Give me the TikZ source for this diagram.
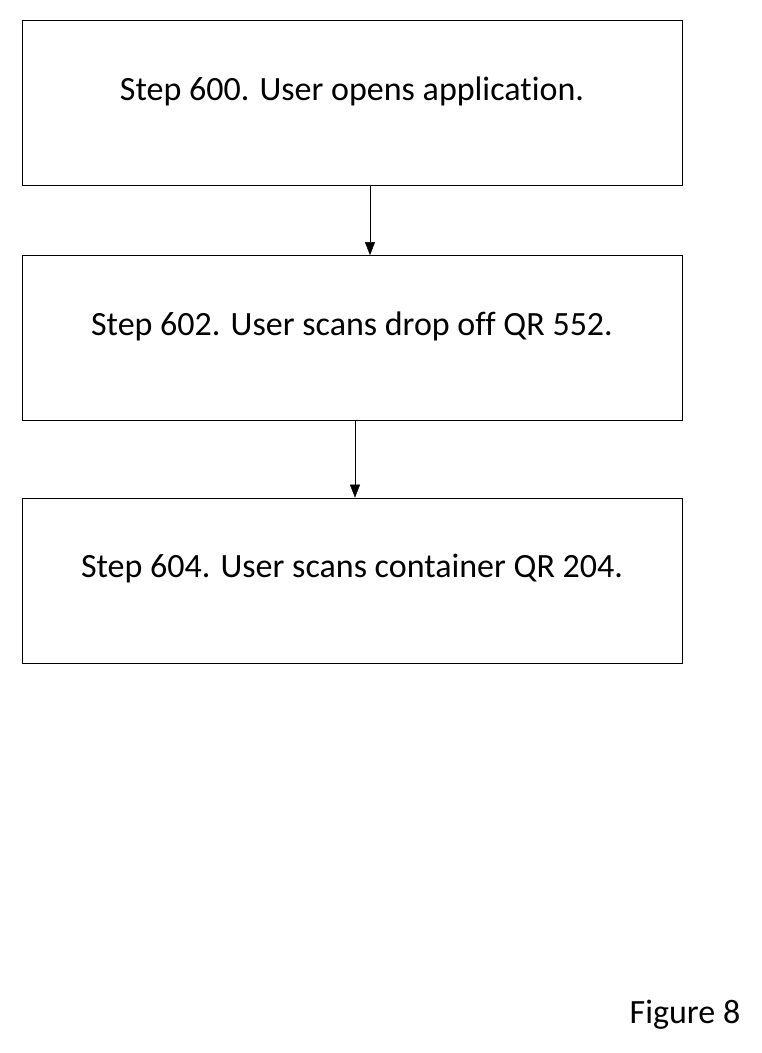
\documentclass[tikz,border=0pt]{standalone}
\usepackage{fontspec}
\setmainfont{Carlito}[Ligatures=NoCommon]
\usetikzlibrary{arrows.meta}
\begin{document}
\begin{tikzpicture}[
		x=1pt, y=-1pt,
		stepbox/.style={draw=black, thick, minimum width=660pt, minimum height=165pt,
		inner sep=0pt, text height=24pt, text depth=30pt, font=\fontsize{34}{40}\selectfont},
		flow/.style={-{Triangle[length=13pt,width=10pt]}, draw=black}
		]
		\useasboundingbox (0,0) rectangle (762,1053);
		\node[stepbox] (s600) at (352,103) {Step 600. User opens application.};
		\node[stepbox] (s602) at (352,338) {Step 602. User scans drop off QR 552.};
		\node[stepbox] (s604) at (352,580.5) {Step 604. User scans container QR 204.};
		\coordinate (c1) at (370,0);
		\coordinate (c2) at (355,0);
		\draw[flow] (s600.south -| c1) -- (s602.north -| c1);
		\draw[flow] (s602.south -| c2) -- (s604.north -| c2);
		\node[font=\fontsize{34}{40}\selectfont] (fig) at (685,1015) {Figure 8};
	\end{tikzpicture}
\end{document}
